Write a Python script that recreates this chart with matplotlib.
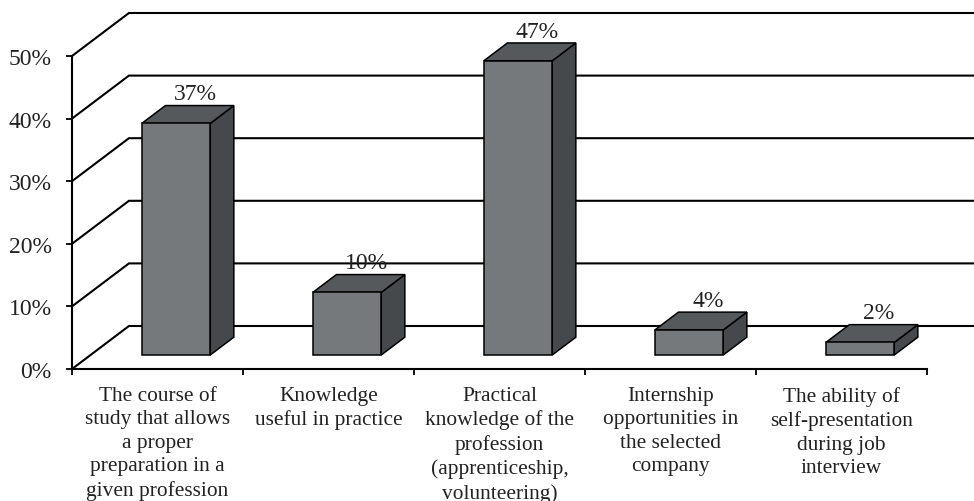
import matplotlib.pyplot as plt
from matplotlib.patches import Polygon

categories = [
    "The course of\nstudy that allows\na proper\npreparation in a\ngiven profession",
    "Knowledge\nuseful in practice",
    "Practical\nknowledge of the\nprofession\n(apprenticeship,\nvolunteering)",
    "Internship\nopportunities in\nthe selected\ncompany",
    "The ability of\nself-presentation\nduring job\ninterview",
]
values = [37, 10, 47, 4, 2]
labels = ["37%", "10%", "47%", "4%", "2%"]
yticks = [0, 10, 20, 30, 40, 50]

# fake 3D: depth offset of the floor in data units
DX, DY = 0.333, 6.87
Z0, Z1 = 0.326, 0.74   # bar front / back as fraction of depth
W = 0.40

front_c = "#76797c"
top_c = "#55595c"
side_c = "#46494c"

plt.rcParams['font.family'] = ['Liberation Serif', 'DejaVu Serif']

fig = plt.figure(figsize=(9.74, 5.02), dpi=100)
ax = fig.add_axes([72 / 974, (502 - 370) / 502, 855 / 974, 313 / 502])
ax.set_xlim(0, 5)
ax.set_ylim(0, 50)

# back gridlines with diagonal on the left wall
for g in yticks:
    ax.plot([0, DX, 6.0], [g, g + DY, g + DY], color="black", lw=1.5,
            clip_on=False, zorder=1, solid_joinstyle="miter")

for i, v in enumerate(values):
    c = i + 0.5
    xl, xr = c - W / 2, c + W / 2
    front = [(xl + Z0 * DX, Z0 * DY), (xr + Z0 * DX, Z0 * DY),
             (xr + Z0 * DX, v + Z0 * DY), (xl + Z0 * DX, v + Z0 * DY)]
    top = [(xl + Z0 * DX, v + Z0 * DY), (xr + Z0 * DX, v + Z0 * DY),
           (xr + Z1 * DX, v + Z1 * DY), (xl + Z1 * DX, v + Z1 * DY)]
    side = [(xr + Z0 * DX, Z0 * DY), (xr + Z1 * DX, Z1 * DY),
            (xr + Z1 * DX, v + Z1 * DY), (xr + Z0 * DX, v + Z0 * DY)]
    for pts, col in [(side, side_c), (top, top_c), (front, front_c)]:
        ax.add_patch(Polygon(pts, closed=True, facecolor=col, edgecolor="black",
                             lw=1.1, clip_on=False, zorder=3, joinstyle="miter"))
    ax.text(c + 0.22, v + Z1 * DY + 1.0, labels[i], ha="center", va="baseline",
            fontsize=17, color="#222222", zorder=4, clip_on=False)

for s in ["top", "right"]:
    ax.spines[s].set_visible(False)
for s in ["left", "bottom"]:
    ax.spines[s].set_linewidth(1.5)
    ax.spines[s].set_zorder(2)

ax.set_yticks(yticks)
ax.set_yticklabels([f"{t}%" for t in yticks], fontsize=17, color="#222222")
ax.tick_params(axis="y", direction="out", length=4.5, width=1.3, pad=10)

ax.set_xticks(range(6))
ax.set_xticklabels([])
ax.set_xticks([i + 0.5 for i in range(5)], minor=True)
ax.set_xticklabels(categories, minor=True, fontsize=15.4, color="#222222",
                   linespacing=1.32, va="top")
ax.tick_params(axis="x", which="major", direction="out", length=4, width=1.3)
ax.tick_params(axis="x", which="minor", length=0, pad=12)

ax.set_facecolor("none")
fig.savefig("out.png", dpi=100)
